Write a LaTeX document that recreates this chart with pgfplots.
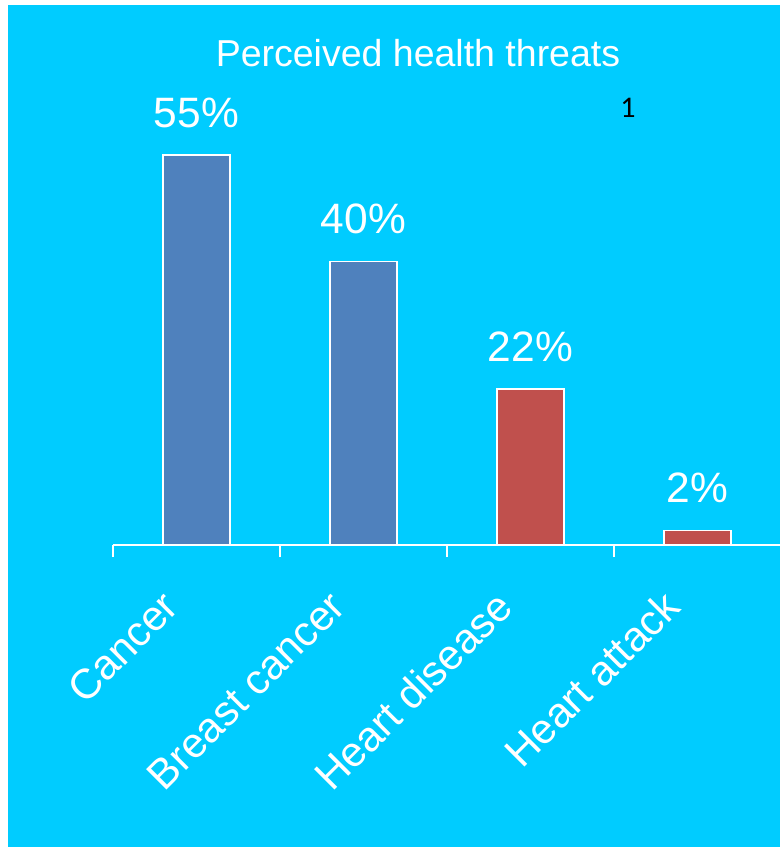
\documentclass[border=0pt]{standalone}
\usepackage{pgfplots}
\pgfplotsset{compat=1.18}
\usepackage{fontspec}
\setmainfont{Liberation Sans}
\newfontfamily\calib{Carlito}
\definecolor{bg}{HTML}{00CCFF}
\definecolor{barblue}{HTML}{4F81BD}
\definecolor{barred}{HTML}{C0504D}
\begin{document}
\begin{tikzpicture}[x=1pt,y=1pt]
\fill[white] (0,0) rectangle (780,847);
\fill[bg] (8,0) rectangle (780,842);
\path[use as bounding box] (0,0) rectangle (780,847);
\node[font=\fontsize{37.5}{45}\selectfont, text=white, anchor=base] at (418,780) {Perceived health threats};
\node[font=\calib\fontsize{30}{36}\selectfont, text=black] at (628,739) {1};
\begin{axis}[
  at={(113pt,302pt)}, anchor=south west,
  scale only axis, width=668pt, height=390pt,
  xmin=-0.5, xmax=3.5, ymin=0, ymax=55,
  clip=false,
  axis x line*=bottom, axis y line=none,
  axis line style={white, line width=1.6pt, -},
  xtick={0,1,2,3},
  xticklabels={Cancer, Breast cancer, Heart disease, Heart attack},
  major tick length=0pt,
  minor xtick={-0.5,0.5,1.5,2.5},
  minor tick length=12pt,
  tick align=outside,
  minor tick style={white, line width=1.6pt},
  xticklabel style={font=\fontsize{42}{50}\selectfont, text=white, rotate=45, anchor=east, xshift=-53pt, yshift=-20pt},
  ybar, bar width=67pt,
  /pgf/number format/assume math mode=true,
  nodes near coords={\pgfmathprintnumber{\pgfplotspointmeta}\%},
  every node near coord/.append style={font=\fontsize{42.5}{50}\selectfont, text=white, anchor=base, yshift=28pt},
]
\addplot[bar shift=0pt, fill=barblue, draw=white, line width=1.2pt] coordinates {(0,55) (1,40)};
\addplot[bar shift=0pt, fill=barred, draw=white, line width=1.2pt] coordinates {(2,22) (3,2)};
\end{axis}
\end{tikzpicture}
\end{document}
